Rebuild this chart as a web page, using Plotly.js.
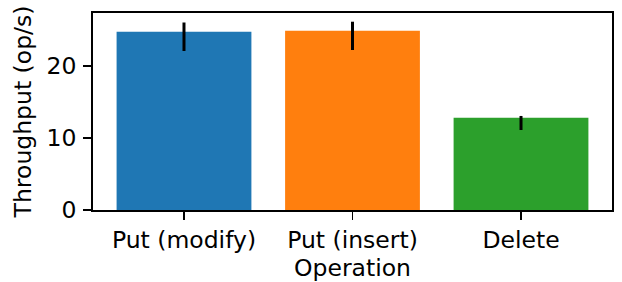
<!DOCTYPE html>
<html>
<head>
<meta charset="utf-8">
<script src="https://cdn.plot.ly/plotly-3.0.1.min.js"></script>
<style>html,body{margin:0;padding:0;background:#fff;}#chart{width:622px;height:282px;}</style>
</head>
<body>
<div id="chart"></div>
<script>
const categories = ["Put (modify)", "Put (insert)", "Delete"];
const throughput = [24.76, 24.9, 12.82];
const errPlus = [1.28, 1.25, 0.24];
const errMinus = [2.68, 2.68, 1.71];
const colors = ["#1f77b4", "#ff7f0e", "#2ca02c"];
const yTicks = [0, 10, 20];

const font = {family: "DejaVu Sans", size: 23.5, color: "#000"};

Plotly.newPlot("chart", [{
  type: "bar",
  x: categories,
  y: throughput,
  width: 0.8,
  marker: {color: colors, line: {width: 0}},
  error_y: {type: "data", symmetric: false, array: errPlus, arrayminus: errMinus,
            color: "#000", thickness: 3, width: 0},
  hoverinfo: "none"
}], {
  width: 622, height: 282,
  margin: {l: 93, r: 10, t: 13, b: 72, pad: 0},
  paper_bgcolor: "#fff", plot_bgcolor: "#fff",
  font: font,
  showlegend: false,
  xaxis: {
    type: "category",
    range: [-0.54, 2.54],
    showline: true, mirror: true, linecolor: "#000", linewidth: 1.8,
    ticks: "outside", ticklen: 8, tickwidth: 1.8, tickcolor: "#000",
    showgrid: false, zeroline: false,
    tickfont: font,
    title: {text: "Operation", font: font, standoff: 6}
  },
  yaxis: {
    range: [0, 27.36],
    tickvals: yTicks,
    ticktext: yTicks.map(String),
    showline: true, mirror: true, linecolor: "#000", linewidth: 1.8,
    ticks: "outside", ticklen: 8, tickwidth: 1.8, tickcolor: "#000",
    ticklabelstandoff: 2,
    showgrid: false, zeroline: false,
    tickfont: font,
    title: {text: "Throughput (op/s)", font: font, standoff: 8}
  }
}, {staticPlot: true, displayModeBar: false});
</script>
</body>
</html>
